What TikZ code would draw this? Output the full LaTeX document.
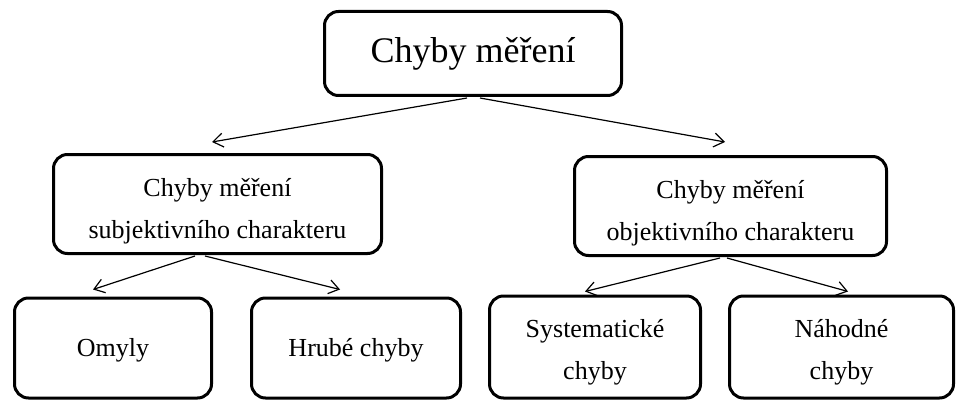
\documentclass[tikz,border=0pt]{standalone}
\usepackage{fontspec}
\setmainfont{Liberation Serif}
\usepackage{tikz}
\usetikzlibrary{arrows.meta, positioning}

\newcommand{\toppad}[1]{\rule{0pt}{#1}}

\begin{document}
\begin{tikzpicture}[
    x=1pt, y=1pt,
    box/.style={rectangle, draw=black, line width=1.5pt, rounded corners=7pt, align=center, inner sep=2pt},
    rootbox/.style={box, minimum width=148.5pt, minimum height=42pt, font=\fontsize{18}{22}\selectfont},
    groupbox/.style={box, minimum height=49.5pt, font=\fontsize{13}{21}\selectfont},
    leafbox/.style={box, minimum height=50pt, font=\fontsize{13}{21}\selectfont},
    arrow/.style={-{Straight Barb[length=5pt, width=7pt]}, line width=0.6pt}
]
\useasboundingbox (0,0) rectangle (478.5,-200.5);

% Top level
\node[rootbox] (chyby) at (236.5,-26.75) {Chyby měření};

% Second level
\node[groupbox, minimum width=164pt] (subj) at (108.75,-102) {\toppad{16pt}Chyby měření\\subjektivního charakteru};
\node[groupbox, minimum width=156pt] (obj) at (365.25,-103) {\toppad{16pt}Chyby měření\\objektivního charakteru};

% Third level
\node[leafbox, minimum width=98.5pt] (omyly) at (56.5,-174) {\toppad{11pt}Omyly};
\node[leafbox, minimum width=104.5pt] (hrube) at (178,-174) {\toppad{11pt}Hrubé chyby};
\node[leafbox, minimum width=105.5pt, minimum height=51pt] (syst) at (297.5,-173.5) {\toppad{14pt}Systematické\\chyby};
\node[leafbox, minimum width=112pt, minimum height=51pt] (nahod) at (420.75,-173.5) {\toppad{14pt}Náhodné\\chyby};

% Arrows
\draw[arrow] ([xshift=-3pt, yshift=-0.5pt]chyby.south) -- ([xshift=-2.75pt, yshift=5.5pt]subj.north);
\draw[arrow] ([xshift=3.5pt, yshift=-0.5pt]chyby.south) -- ([xshift=-2.75pt, yshift=6.5pt]obj.north);
\draw[arrow] ([xshift=-11.25pt, yshift=-0.5pt]subj.south) -- ([xshift=-10pt, yshift=3.5pt]omyly.north);
\draw[arrow] ([xshift=-6.25pt, yshift=-0.5pt]subj.south) -- ([xshift=-8pt, yshift=3.5pt]hrube.north);
\draw[arrow] ([xshift=-5.25pt, yshift=-0.5pt]obj.south) -- ([xshift=-5pt, yshift=1.5pt]syst.north);
\draw[arrow] ([xshift=-1.75pt, yshift=-0.5pt]obj.south) -- ([xshift=3.25pt, yshift=1.5pt]nahod.north);

\end{tikzpicture}
\end{document}
